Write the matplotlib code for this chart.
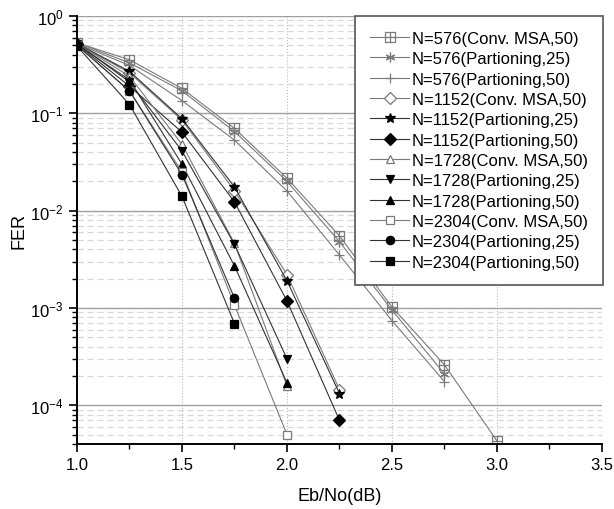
import numpy as np
import matplotlib
matplotlib.use('Agg')
import matplotlib.pyplot as plt
from matplotlib.path import Path
from matplotlib.ticker import LogLocator, MultipleLocator, NullFormatter

plt.rcParams['font.family'] = ['Liberation Sans', 'DejaVu Sans']
plt.rcParams['mathtext.default'] = 'regular'

# data
ebno = [1.0, 1.25, 1.5, 1.75, 2.0, 2.25, 2.5, 2.75, 3.0]

fer_576_conv = [0.53, 0.355, 0.18, 0.070, 0.0215, 0.0055, 0.00102, 0.00026, 4.3e-5]
fer_576_p25 = [0.53, 0.33, 0.17, 0.065, 0.020, 0.0048, 0.00095, 0.00021]
fer_576_p50 = [0.52, 0.31, 0.135, 0.053, 0.0159, 0.0035, 0.00074, 0.000175]

fer_1152_conv = [0.52, 0.26, 0.085, 0.016, 0.0022, 0.000145]
fer_1152_p25 = [0.52, 0.27, 0.088, 0.0175, 0.0019, 0.000132]
fer_1152_p50 = [0.51, 0.19, 0.064, 0.0123, 0.00118, 7.0e-5]

fer_1728_conv = [0.52, 0.24, 0.048, 0.0046, 0.000158]
fer_1728_p25 = [0.52, 0.21, 0.041, 0.0045, 0.0003]
fer_1728_p50 = [0.51, 0.22, 0.030, 0.0027, 0.00017]

fer_2304_conv = [0.50, 0.17, 0.025, 0.00107, 5.0e-5]
fer_2304_p25 = [0.50, 0.17, 0.0234, 0.00126]
fer_2304_p50 = [0.49, 0.123, 0.014, 0.00069]

labels = ['N=576(Conv. MSA,50)', 'N=576(Partioning,25)', 'N=576(Partioning,50)',
          'N=1152(Conv. MSA,50)', 'N=1152(Partioning,25)', 'N=1152(Partioning,50)',
          'N=1728(Conv. MSA,50)', 'N=1728(Partioning,25)', 'N=1728(Partioning,50)',
          'N=2304(Conv. MSA,50)', 'N=2304(Partioning,25)', 'N=2304(Partioning,50)']

# square with a plus inside
sq_plus = Path([(-1, -1), (1, -1), (1, 1), (-1, 1), (-1, -1), (0, -1), (0, 1), (-1, 0), (1, 0)],
               [Path.MOVETO, Path.LINETO, Path.LINETO, Path.LINETO, Path.LINETO,
                Path.MOVETO, Path.LINETO, Path.MOVETO, Path.LINETO])

gray = '#7a7a7a'
series = [
    (fer_576_conv, sq_plus, 'none', gray, gray),
    (fer_576_p25, (6, 2, 0), 'none', gray, gray),
    (fer_576_p50, '+', 'none', gray, gray),
    (fer_1152_conv, 'D', 'white', gray, gray),
    (fer_1152_p25, '*', 'black', 'black', '#333333'),
    (fer_1152_p50, 'D', 'black', 'black', '#333333'),
    (fer_1728_conv, '^', 'white', gray, gray),
    (fer_1728_p25, 'v', 'black', 'black', '#333333'),
    (fer_1728_p50, '^', 'black', 'black', '#333333'),
    (fer_2304_conv, 's', 'white', gray, gray),
    (fer_2304_p25, 'o', 'black', 'black', '#333333'),
    (fer_2304_p50, 's', 'black', 'black', '#333333'),
]

fig = plt.figure(figsize=(6.14, 5.10), dpi=100)
ax = fig.add_axes([0.1254, 0.1275, 0.855, 0.8392])

for (vals, mk, fc, ec, lc), lab in zip(series, labels):
    ms = 7 if mk in ('*', '+') or isinstance(mk, tuple) else 6
    if mk is sq_plus:
        ms = 7
    ax.plot(ebno[:len(vals)], vals, color=lc, lw=0.8, marker=mk, markersize=ms,
            markerfacecolor=fc, markeredgecolor=ec, markeredgewidth=0.9, label=lab)

ax.set_yscale('log')
ax.set_xlim(1.0, 3.5)
ax.set_ylim(4e-5, 1.0)

ax.xaxis.set_major_locator(MultipleLocator(0.5))
ax.xaxis.set_minor_locator(MultipleLocator(0.25))
ax.xaxis.set_major_formatter(plt.FuncFormatter(lambda v, p: f'{v:.1f}'))
ax.yaxis.set_major_locator(LogLocator(base=10, numticks=10))
ax.yaxis.set_minor_locator(LogLocator(base=10, subs=np.arange(2, 10), numticks=20))
ax.yaxis.set_minor_formatter(NullFormatter())

ax.grid(True, which='major', axis='y', color='#a0a0a0', lw=1.0, ls='-')
ax.grid(True, which='minor', axis='y', color='#d8d8d8', lw=0.9, ls=(0, (5, 3)))
ax.grid(True, which='major', axis='x', color='#b8b8b8', lw=0.8, ls=':')
ax.set_axisbelow(True)

ax.spines['top'].set_visible(False)
ax.spines['right'].set_visible(False)
ax.spines['left'].set_linewidth(1.4)
ax.spines['bottom'].set_linewidth(1.4)
ax.tick_params(which='major', direction='out', length=6, width=1.2, labelsize=12)
ax.tick_params(which='minor', direction='out', length=3.5, width=1.0)

ax.set_xlabel('Eb/No(dB)', fontsize=13, labelpad=11)
ax.set_ylabel('FER', fontsize=13, labelpad=2)

leg = ax.legend(loc='upper right', bbox_to_anchor=(1.002, 1.0), borderaxespad=0,
                fontsize=12, handlelength=2.3, labelspacing=0.32, fancybox=False,
                framealpha=1, edgecolor='#555555', borderpad=0.9, handletextpad=0.2)
leg.get_frame().set_linewidth(1.2)

fig.savefig('out.png', dpi=100)
